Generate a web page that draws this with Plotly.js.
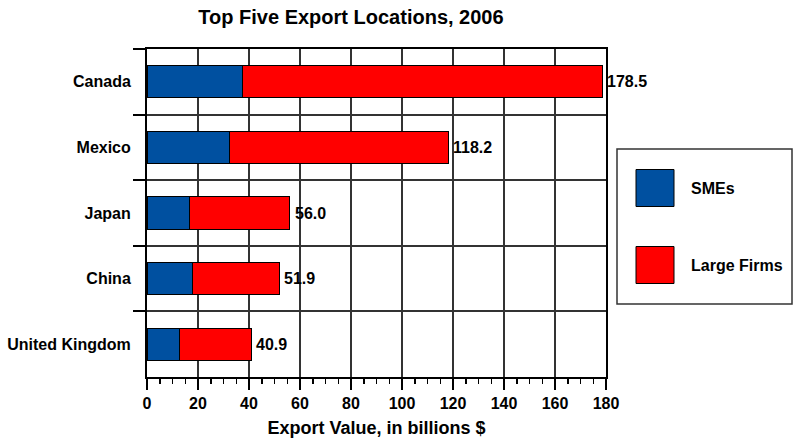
<!DOCTYPE html>
<html>
<head>
<meta charset="utf-8">
<script src="https://cdn.plot.ly/plotly-3.0.1.min.js"></script>
<style>html,body{margin:0;padding:0;background:#fff;}#chart{width:794px;height:438px;}</style>
</head>
<body>
<div id="chart"></div>
<script>
const categories = ['Canada', 'Mexico', 'Japan', 'China', 'United Kingdom'];
const smeValues = [37.4, 32.4, 16.8, 17.7, 12.8];
const totalValues = [178.5, 118.2, 56.0, 51.9, 40.9];
const largeValues = totalValues.map((t, i) => +(t - smeValues[i]).toFixed(1));
const seriesNames = ['SMEs', 'Large Firms'];
const xTickValues = [0, 20, 40, 60, 80, 100, 120, 140, 160, 180];

const FONT = 'Liberation Sans, Arial, sans-serif';
const colors = ['#0050A0', '#FF0000'];

// plot area pixel geometry
const L = 147, R = 606, T = 49, B = 377, W = 794, H = 438;
const fx = px => (px - L) / (R - L);
const fy = py => (B - py) / (B - T);

const traces = [
  {type: 'bar', orientation: 'h', name: seriesNames[0], y: categories, x: smeValues,
   marker: {color: colors[0], line: {color: '#000', width: 1}}, hoverinfo: 'x+y'},
  {type: 'bar', orientation: 'h', name: seriesNames[1], y: categories, x: largeValues,
   marker: {color: colors[1], line: {color: '#000', width: 1}}, hoverinfo: 'x+y'}
];

const annotations = categories.map((c, i) => ({
  x: totalValues[i], y: c, xref: 'x', yref: 'y', text: totalValues[i].toFixed(1),
  showarrow: false, xanchor: 'left', yanchor: 'middle', xshift: 3,
  font: {family: FONT, size: 16, color: '#000', weight: 'bold'}
}));

const shapes = [
  {type: 'rect', xref: 'paper', yref: 'paper', x0: fx(617), x1: fx(792), y0: fy(304), y1: fy(149),
   line: {color: '#333', width: 1.5}, fillcolor: 'rgba(0,0,0,0)'}
];
const legendY = [188, 265];
seriesNames.forEach((n, i) => {
  const cy = legendY[i];
  shapes.push({type: 'rect', xref: 'paper', yref: 'paper', x0: fx(636), x1: fx(674),
    y0: fy(cy + 18.5), y1: fy(cy - 18.5), line: {color: '#000', width: 1}, fillcolor: colors[i]});
  annotations.push({xref: 'paper', yref: 'paper', x: fx(689), y: fy(cy), xanchor: 'left', yanchor: 'middle',
    text: n, showarrow: false, font: {family: FONT, size: 16, color: '#000', weight: 'bold'}});
});

const layout = {
  width: W, height: H,
  margin: {l: L, r: W - R, t: T, b: H - B, pad: 0},
  paper_bgcolor: '#fff', plot_bgcolor: '#fff',
  barmode: 'stack', bargap: 0.51, showlegend: false,
  font: {family: FONT, color: '#000'},
  title: {text: 'Top Five Export Locations, 2006', x: 351 / W, xanchor: 'center', xref: 'container',
    y: 1 - 17 / H, yanchor: 'middle', yref: 'container',
    font: {family: FONT, size: 20, color: '#000', weight: 'bold'}},
  xaxis: {
    range: [0, 180], tickvals: xTickValues, ticktext: xTickValues.map(String),
    showgrid: true, gridcolor: '#333', gridwidth: 2, zeroline: false,
    showline: true, linecolor: '#000', linewidth: 2, mirror: true,
    ticks: 'outside', ticklen: 11, tickwidth: 2, tickcolor: '#000',
    minor: {dtick: 5, tick0: 0, ticks: 'outside', ticklen: 5, tickwidth: 1.5, tickcolor: '#000', showgrid: false},
    tickfont: {family: FONT, size: 16, color: '#000', weight: 'bold'},
    title: {text: 'Export Value, in billions $', standoff: 11,
      font: {family: FONT, size: 18, color: '#000', weight: 'bold'}},
    fixedrange: true
  },
  yaxis: {
    type: 'category', categoryorder: 'array', categoryarray: categories, autorange: 'reversed',
    tickson: 'boundaries', ticks: 'outside', ticklen: 12, tickwidth: 2, tickcolor: '#000',
    showgrid: true, gridcolor: '#333', gridwidth: 2, zeroline: false,
    showline: true, linecolor: '#000', linewidth: 2, mirror: true,
    tickfont: {family: FONT, size: 16, color: '#000', weight: 'bold'},
    ticklabelstandoff: 11,
    fixedrange: true
  },
  annotations: annotations,
  shapes: shapes
};

Plotly.newPlot('chart', traces, layout, {displayModeBar: false, staticPlot: true});
</script>
</body>
</html>
